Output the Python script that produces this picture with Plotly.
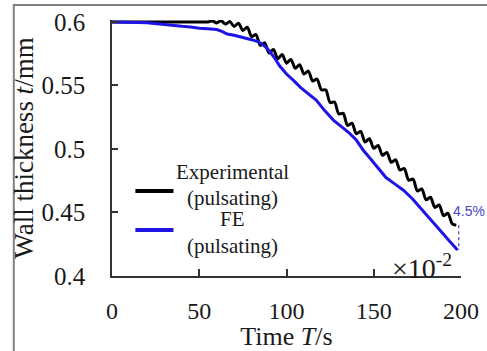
import plotly.graph_objects as go

# ---- data ----
exp_t = [0, 20, 40, 55, 57.5, 60, 62.5, 65, 67.5, 70, 72.5, 75, 77.5, 80, 82.5, 85,
         87.5, 90, 92.5, 95, 97.5, 100, 102.5, 105, 107.5, 110, 112.5, 115, 117.5,
         120, 122.5, 125, 127.5, 130, 132.5, 135, 137.5, 140, 142.5, 145, 147.5,
         150, 152.5, 155, 157.5, 160, 162.5, 165, 167.5, 170, 172.5, 175, 177.5,
         180, 182.5, 185, 187.5, 190, 192.5, 195, 197.3]
exp_y = [0.600, 0.600, 0.600, 0.600, 0.6008, 0.5992, 0.6010, 0.5983, 0.6003, 0.5964,
         0.5990, 0.5933, 0.5958, 0.5885, 0.5900, 0.5815, 0.5835, 0.5755, 0.5783,
         0.5710, 0.5743, 0.5675, 0.5705, 0.5635, 0.5663, 0.5590, 0.5613, 0.5535,
         0.5550, 0.5465, 0.5465, 0.5365, 0.5370, 0.5275, 0.5280, 0.5185, 0.5203,
         0.5120, 0.5138, 0.5055, 0.5080, 0.5005, 0.5028, 0.4950, 0.4973, 0.4895,
         0.4915, 0.4835, 0.4845, 0.4755, 0.4763, 0.4670, 0.4685, 0.4600, 0.4620,
         0.4540, 0.4558, 0.4475, 0.4493, 0.4410, 0.4400]

fe_t = [0, 10, 15, 20, 25, 30, 35, 40, 45, 50, 55, 60, 63, 66, 70, 75, 80, 84, 87,
        90, 93, 96, 100, 104, 108, 112, 117, 122, 127, 132, 136, 140, 144, 148, 152,
        157, 162, 167, 172, 176, 181, 186, 190, 194, 198]
fe_y = [0.600, 0.600, 0.5995, 0.5993, 0.5985, 0.5982, 0.5975, 0.5965, 0.5960, 0.5950,
        0.5947, 0.5940, 0.5925, 0.5905, 0.5895, 0.5880, 0.5860, 0.5843, 0.5815,
        0.5775, 0.5720, 0.5655, 0.5590, 0.5540, 0.5485, 0.5440, 0.5385, 0.5300,
        0.5225, 0.5170, 0.5125, 0.5070, 0.4990, 0.4925, 0.4860, 0.4775, 0.4725,
        0.4675, 0.4610, 0.4546, 0.4470, 0.4388, 0.4325, 0.4265, 0.4205]

x_ticks = [0, 50, 100, 150, 200]
y_ticks = [0.4, 0.45, 0.5, 0.55, 0.6]
y_tick_text = ["0.4", "0.45", "0.5", "0.55", "0.6"]
diff_label = "4.5%"
legend_text = ["Experimental", "(pulsating)", "FE", "(pulsating)"]

SERIF = "Liberation Serif, Times New Roman, serif"
BLUE = "#1e14e6"

fig = go.Figure()
fig.add_trace(go.Scatter(x=exp_t, y=exp_y, mode="lines", name="Experimental (pulsating)",
                         line=dict(color="black", width=3, shape="spline", smoothing=0.8),
                         showlegend=False))
fig.add_trace(go.Scatter(x=fe_t, y=fe_y, mode="lines", name="FE (pulsating)",
                         line=dict(color=BLUE, width=3),
                         showlegend=False))
# dotted difference marker between end points
fig.add_trace(go.Scatter(x=[fe_t[-1] + 0.7, fe_t[-1] + 0.7], y=[exp_y[-1], fe_y[-1]],
                         mode="lines", line=dict(color="#4a4ad0", width=1.3, dash="dot"),
                         showlegend=False, hoverinfo="skip"))

fig.update_layout(
    width=487, height=351,
    margin=dict(l=111.5, r=25.5, t=20, b=75, autoexpand=False),
    paper_bgcolor="white", plot_bgcolor="white",
    font=dict(family=SERIF, color="#1a1a1a"),
    xaxis=dict(range=[0, 200], tickvals=x_ticks, ticks="inside", ticklen=7, tickwidth=1.5,
               tickcolor="#333", showline=True, linecolor="#333", linewidth=1.5,
               showgrid=False, zeroline=False, tickfont=dict(size=24, family=SERIF),
               ticklabelstandoff=12, automargin=False,
               title=dict(text="Time <i>T</i>/s", font=dict(size=26, family=SERIF), standoff=0)),
    yaxis=dict(range=[0.4, 0.6015], tickvals=y_ticks, ticktext=y_tick_text, ticks="inside",
               ticklen=6, tickwidth=1.5, tickcolor="#333", showline=True, linecolor="#333",
               linewidth=1.5, showgrid=False, zeroline=False, automargin=False,
               tickfont=dict(size=25, family=SERIF), ticklabelstandoff=20,
               title=dict(text="Wall thickness <i>t</i>/mm", font=dict(size=27, family=SERIF),
                          standoff=0)),
)

# manual legend (centered multi-line text as in the reference)
for yy, col in [(0.332, "black"), (0.1797, BLUE)]:
    fig.add_shape(type="line", xref="paper", yref="paper", x0=0.067, x1=0.176, y0=yy, y1=yy,
                  line=dict(color=col, width=4))
for txt, yy in zip(legend_text, [0.408, 0.303, 0.221, 0.119]):
    fig.add_annotation(text=txt, xref="paper", yref="paper", x=0.345, y=yy,
                       showarrow=False, font=dict(size=21, family=SERIF, color="#1a1a1a"),
                       xanchor="center", yanchor="middle")

fig.add_annotation(text="\u00d710<sup>-2</sup>", xref="x", yref="y", x=177.4, y=0.4075,
                   showarrow=False, font=dict(size=28, family=SERIF, color="#1a1a1a"),
                   xanchor="center", yanchor="middle")
fig.add_annotation(text=diff_label, xref="x", yref="y", x=194.3, y=0.4512, showarrow=False,
                   font=dict(size=14, family="Liberation Sans, Arial, sans-serif", color="#4646c8"),
                   xanchor="left", yanchor="middle")

# outer gray frame
fig.add_shape(type="rect", xref="paper", yref="paper", x0=-0.2814, x1=1.2, y0=-0.4, y1=1.0586,
              line=dict(color="#808080", width=2), layer="below")

fig.write_html("out.html", config={"displayModeBar": False},
               post_script="document.body.style.margin='0';document.body.style.padding='0';")
